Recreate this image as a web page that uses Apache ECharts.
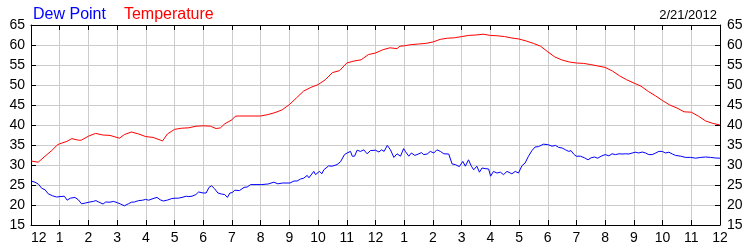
<!DOCTYPE html>
<html>
<head>
<meta charset="utf-8">
<script src="https://cdn.jsdelivr.net/npm/echarts@6/dist/echarts.min.js"></script>
<style>
html,body{margin:0;padding:0;background:#fff;}
#chart{width:750px;height:250px;}
</style>
</head>
<body>
<div id="chart"></div>
<script>
// Hour tick labels (0..24)
var tickLabels = ['12','1','2','3','4','5','6','7','8','9','10','11','12','1','2','3','4','5','6','7','8','9','10','11','12'];
var yTicks = [15, 20, 25, 30, 35, 40, 45, 50, 55, 60, 65];
var dateText = '2/21/2012';

// Temperature readings (hour of day, °F)
var tempHours = [0,0.25,0.49,0.72,0.93,1,1.25,1.42,1.65,1.75,2,2.25,2.5,2.75,3.08,3.25,3.5,3.75,4,4.25,4.5,4.58,4.75,5,5.25,5.5,5.75,6,6.25,6.45,6.6,6.75,7,7.12,7.25,8,8.25,8.5,8.75,9,9.25,9.5,9.75,10,10.25,10.5,10.75,11,11.25,11.5,11.75,12,12.25,12.5,12.75,12.85,13,13.25,13.5,13.75,14,14.25,14.5,14.75,15,15.25,15.5,15.75,16,16.25,16.5,16.75,17,17.25,17.5,17.75,18,18.25,18.5,18.75,19,19.25,19.5,19.75,20,20.25,20.5,20.75,21,21.25,21.5,21.75,22,22.25,22.5,22.75,23,23.25,23.5,23.75,24];
var tempValues = [31.0,30.7,32.2,33.6,35.1,35.3,35.9,36.6,36.2,36.2,37.2,37.9,37.5,37.4,36.7,37.6,38.25,37.75,37.1,36.9,36.25,36.0,37.75,38.9,39.2,39.3,39.7,39.8,39.7,39.1,39.3,40.3,41.3,42.2,42.25,42.25,42.6,43.1,43.8,45.1,46.8,48.5,49.4,50.1,51.3,53.1,53.6,55.5,56.0,56.3,57.6,58.0,58.8,59.3,59.1,59.7,59.8,60.1,60.25,60.4,60.75,61.4,61.7,61.8,62.1,62.4,62.5,62.7,62.4,62.3,62.1,61.75,61.5,61.0,60.4,59.7,58.3,57.0,56.25,55.75,55.5,55.4,55.1,54.75,54.4,53.5,52.3,51.3,50.5,49.7,48.4,47.3,46.1,45.0,44.25,43.3,43.2,42.2,41.0,40.4,40.0];

// Dew point readings (hour of day, °F)
var dewHours = [0,0.14,0.26,0.37,0.49,0.6,0.75,0.89,1.01,1.16,1.26,1.37,1.53,1.65,1.76,1.9,2.02,2.17,2.26,2.37,2.51,2.6,2.75,2.87,3,3.12,3.25,3.39,3.5,3.6,3.75,3.89,3.99,4.1,4.25,4.39,4.5,4.61,4.76,4.9,5.01,5.13,5.26,5.41,5.5,5.61,5.74,5.84,6,6.1,6.2,6.29,6.39,6.51,6.63,6.75,6.84,6.93,7.01,7.1,7.26,7.42,7.53,7.65,8.02,8.26,8.46,8.6,8.77,9.02,9.16,9.27,9.39,9.5,9.62,9.68,9.85,9.91,10.05,10.13,10.2,10.37,10.49,10.66,10.78,10.92,11.01,11.13,11.19,11.27,11.36,11.48,11.59,11.71,11.82,12,12.12,12.21,12.3,12.41,12.52,12.64,12.75,12.87,12.98,13.04,13.16,13.25,13.37,13.48,13.6,13.68,13.8,13.91,14.03,14.14,14.26,14.38,14.55,14.67,14.78,14.92,15.04,15.13,15.24,15.34,15.42,15.53,15.62,15.71,15.82,15.94,16.01,16.11,16.23,16.35,16.46,16.58,16.75,16.87,16.98,17.1,17.21,17.33,17.45,17.56,17.68,17.85,18,18.15,18.27,18.38,18.5,18.62,18.73,18.81,18.9,18.99,19.14,19.28,19.4,19.51,19.63,19.74,19.86,20,20.13,20.24,20.36,20.48,20.59,20.71,20.83,20.94,21.06,21.17,21.29,21.41,21.52,21.64,21.76,21.87,21.99,22.1,22.22,22.34,22.45,22.63,22.8,22.98,23.15,23.33,23.5,23.67,23.85,24];
var dewValues = [26.0,25.7,25.2,24.2,23.8,22.8,22.3,22.0,22.1,22.2,21.2,21.7,21.9,21.3,20.3,20.5,20.7,20.9,21.1,20.7,20.25,20.75,20.7,20.9,20.6,20.25,19.8,20.3,20.7,20.75,21.1,21.2,21.4,21.2,21.6,21.9,21.3,21.0,21.25,21.6,21.7,21.7,21.9,22.2,22.1,22.2,22.6,23.25,23.0,23.0,24.4,24.8,24.1,23.0,22.75,22.6,21.9,23.0,23.1,23.7,23.6,24.4,24.5,25.1,25.1,25.25,25.7,25.3,25.5,25.5,26.0,26.0,26.5,26.7,27.4,26.8,28.4,27.6,28.4,27.8,28.8,29.8,29.7,30.1,30.8,32.6,33.0,33.4,32.2,32.2,33.7,33.4,33.8,32.8,33.6,33.7,33.25,33.8,33.4,34.9,33.8,31.9,32.8,32.2,34.1,33.4,32.2,33.0,32.4,32.7,33.1,32.6,32.75,33.4,33.0,33.8,33.4,32.8,32.75,30.25,30.1,29.6,30.9,29.7,31.3,29.7,28.8,29.7,28.2,29.25,29.1,29.0,27.2,28.4,28.0,28.2,27.6,28.4,27.8,28.4,28.0,29.8,30.5,32.2,33.6,34.5,34.6,35.2,35.1,34.7,34.9,34.4,34.25,33.8,33.4,33.6,32.75,32.2,32.2,31.8,31.3,31.8,32.0,31.7,32.2,32.6,32.3,32.8,32.6,32.8,32.75,32.8,32.75,33.0,33.2,33.0,33.25,33.0,32.6,32.6,33.0,33.4,33.4,33.0,33.2,32.75,32.4,32.2,31.9,31.9,31.7,31.9,32.0,31.9,31.75,31.7];

function pairs(xs, ys) {
  var out = [];
  for (var i = 0; i < xs.length; i++) out.push([xs[i], ys[i]]);
  return out;
}

var FONT = '"Liberation Sans", Arial, sans-serif';
var gridColor = '#cccccc';

var chart = echarts.init(document.getElementById('chart'), null, {renderer: 'canvas'});

function xAxisBase(pos, showLabels) {
  return {
    type: 'value', position: pos, min: 0, max: 24, interval: 1,
    axisLine: {show: true, onZero: false, lineStyle: {color: '#000', width: 1}},
    axisTick: {show: true, inside: true, length: 5, lineStyle: {color: '#000'}},
    axisLabel: {
      show: showLabels, color: '#000', fontSize: 14, fontFamily: FONT, margin: 6,
      alignMinLabel: 'left',
      formatter: function (v) { return tickLabels[Math.round(v)]; }
    },
    splitLine: {show: pos === 'bottom', lineStyle: {color: gridColor, width: 1}}
  };
}
function yAxisBase(pos) {
  return {
    type: 'value', position: pos, min: yTicks[0], max: yTicks[yTicks.length - 1], interval: 5,
    axisLine: {show: true, onZero: false, lineStyle: {color: '#000', width: 1}},
    axisTick: {show: true, inside: true, length: 5, lineStyle: {color: '#000'}},
    axisLabel: {show: true, color: '#000', fontSize: 14, fontFamily: FONT, margin: pos === 'left' ? 6 : 7},
    splitLine: {show: pos === 'left', lineStyle: {color: gridColor, width: 1}}
  };
}

chart.setOption({
  animation: false,
  backgroundColor: '#fff',
  title: {
    text: dateText, right: 28, top: 4,
    textStyle: {fontSize: 13, fontWeight: 'normal', color: '#000', fontFamily: FONT}
  },
  legend: {
    left: 23, top: 2, itemWidth: 0, itemHeight: 0, itemGap: 13, icon: 'rect',
    selectedMode: false,
    textStyle: {fontSize: 16, fontFamily: FONT},
    data: [
      {name: 'Dew Point', textStyle: {color: '#0000ff'}},
      {name: 'Temperature', textStyle: {color: '#ff0000'}}
    ]
  },
  grid: {left: 31, right: 30, top: 25, bottom: 25, containLabel: false, outerBoundsMode: 'none'},
  xAxis: [xAxisBase('bottom', true), xAxisBase('top', false)],
  yAxis: [yAxisBase('left'), yAxisBase('right')],
  series: [
    {
      name: 'Dew Point', type: 'line', xAxisIndex: 0, yAxisIndex: 0,
      showSymbol: false, symbol: 'none', color: '#0000ff',
      lineStyle: {color: '#0000ff', width: 1},
      data: pairs(dewHours, dewValues)
    },
    {
      name: 'Temperature', type: 'line', xAxisIndex: 0, yAxisIndex: 0,
      showSymbol: false, symbol: 'none', color: '#ff0000',
      lineStyle: {color: '#ff0000', width: 1},
      data: pairs(tempHours, tempValues)
    }
  ]
});
</script>
</body>
</html>
